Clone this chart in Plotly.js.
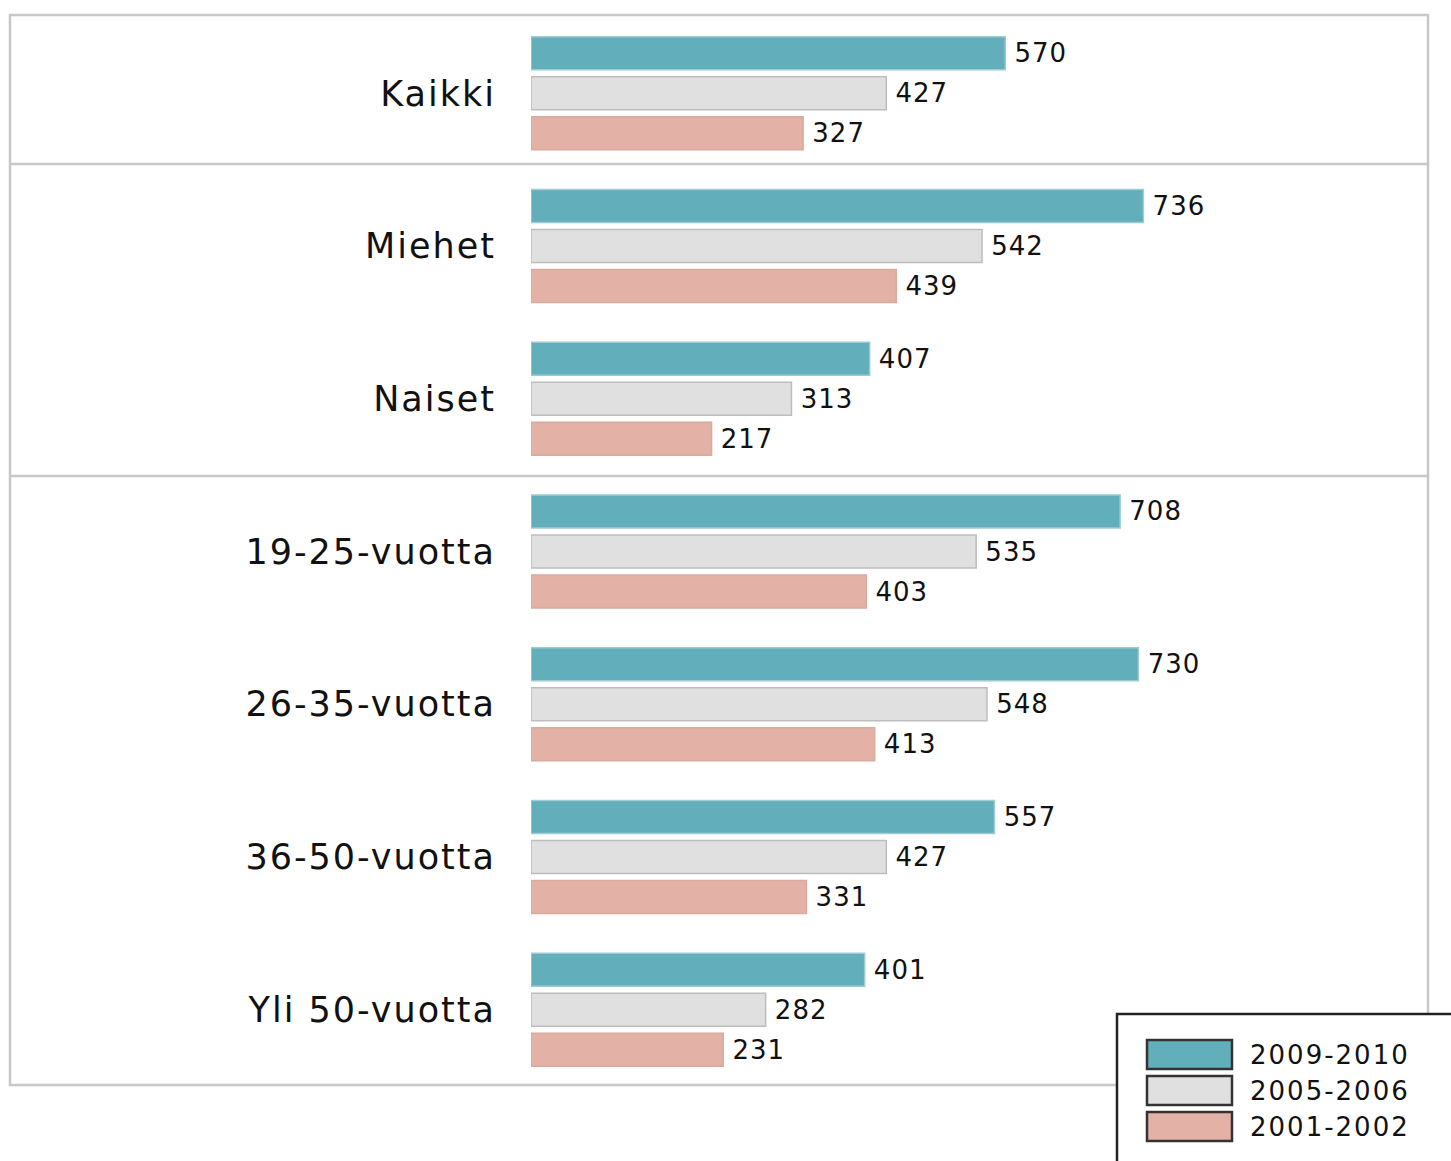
<!DOCTYPE html>
<html>
<head>
<meta charset="utf-8">
<script src="https://cdn.plot.ly/plotly-3.0.1.min.js"></script>
<style>
  html, body { margin: 0; padding: 0; background: #fff; }
  #chart { width: 1451px; height: 1161px; }
  .ytick text { letter-spacing: 2px; }
  .annotation-text { letter-spacing: 2px; }
  text.bartext { letter-spacing: 1px; }
</style>
</head>
<body>
<div id="chart"></div>
<script>
const categories = ["Kaikki", "Miehet", "Naiset", "19-25-vuotta", "26-35-vuotta", "36-50-vuotta", "Yli 50-vuotta"];
const seriesNames = ["2009-2010", "2005-2006", "2001-2002"];
const values2009 = [570, 736, 407, 708, 730, 557, 401];
const values2005 = [427, 542, 313, 535, 548, 427, 282];
const values2001 = [327, 439, 217, 403, 413, 331, 231];
const seriesColors = ["#62afbb", "#e0e0e0", "#e3b1a5"];
const seriesLines = ["#9ccbd3", "#bdbdbd", "#d9aa9e"];

const W = 1451, H = 1161;
const L = 531, R = 23, T = 17, B = 75;
const pw = W - L - R, ph = H - T - B;
const px = v => (v - L) / pw;
const py = v => (H - B - v) / ph;

const seriesValues = [values2009, values2005, values2001];
const traces = seriesValues.map((vals, i) => ({
  type: "bar",
  orientation: "h",
  name: seriesNames[i],
  x: vals,
  y: categories,
  text: vals.map(v => "\u2009" + v),
  textposition: "outside",
  constraintext: "none",
  cliponaxis: false,
  textfont: { family: "DejaVu Sans", size: 26, color: "#111" },
  marker: { color: seriesColors[i], line: { color: seriesLines[i], width: 1.5 } },
  hoverinfo: "x+y"
}));

const frame = "#c8c8c8";
const shapes = [
  { type: "rect", xref: "paper", yref: "paper", x0: px(10), x1: px(1428), y0: py(1085), y1: py(15),
    line: { color: frame, width: 2.5 }, fillcolor: "rgba(0,0,0,0)", layer: "below" },
  { type: "line", xref: "paper", yref: "paper", x0: px(10), x1: px(1428), y0: py(164), y1: py(164),
    line: { color: frame, width: 2.5 }, layer: "below" },
  { type: "line", xref: "paper", yref: "paper", x0: px(10), x1: px(1428), y0: py(476), y1: py(476),
    line: { color: frame, width: 2.5 }, layer: "below" },
  // legend box
  { type: "rect", xref: "paper", yref: "paper", x0: px(1117), x1: px(1470), y0: py(1180), y1: py(1014),
    line: { color: "#222", width: 2.5 }, fillcolor: "#ffffff", layer: "above" }
];
const annotations = [];
const swTop = [1040, 1076, 1112];
seriesNames.forEach((n, i) => {
  shapes.push({ type: "rect", xref: "paper", yref: "paper", x0: px(1147), x1: px(1232),
    y0: py(swTop[i] + 29), y1: py(swTop[i]), line: { color: "#333", width: 2.5 },
    fillcolor: seriesColors[i], layer: "above" });
  annotations.push({ xref: "paper", yref: "paper", x: px(1248), y: py(swTop[i] + 15),
    xanchor: "left", yanchor: "middle", showarrow: false, text: n,
    font: { family: "DejaVu Sans", size: 26, color: "#111" } });
});

const layout = {
  width: W, height: H,
  margin: { l: L, r: R, t: T, b: B, pad: 0 },
  paper_bgcolor: "#ffffff", plot_bgcolor: "rgba(0,0,0,0)",
  barmode: "group", bargap: 0.214, bargroupgap: 0.175,
  showlegend: false,
  xaxis: { range: [0, 1078], showgrid: false, zeroline: false, showticklabels: false, showline: false, fixedrange: true },
  yaxis: { type: "category", categoryorder: "array", categoryarray: categories, autorange: "reversed",
    showgrid: false, zeroline: false, showline: false, ticks: "", ticklabelstandoff: 34,
    tickfont: { family: "DejaVu Sans", size: 35, color: "#111" }, fixedrange: true },
  shapes: shapes,
  annotations: annotations
};

Plotly.newPlot("chart", traces, layout, { displayModeBar: false, staticPlot: true });
</script>
</body>
</html>
